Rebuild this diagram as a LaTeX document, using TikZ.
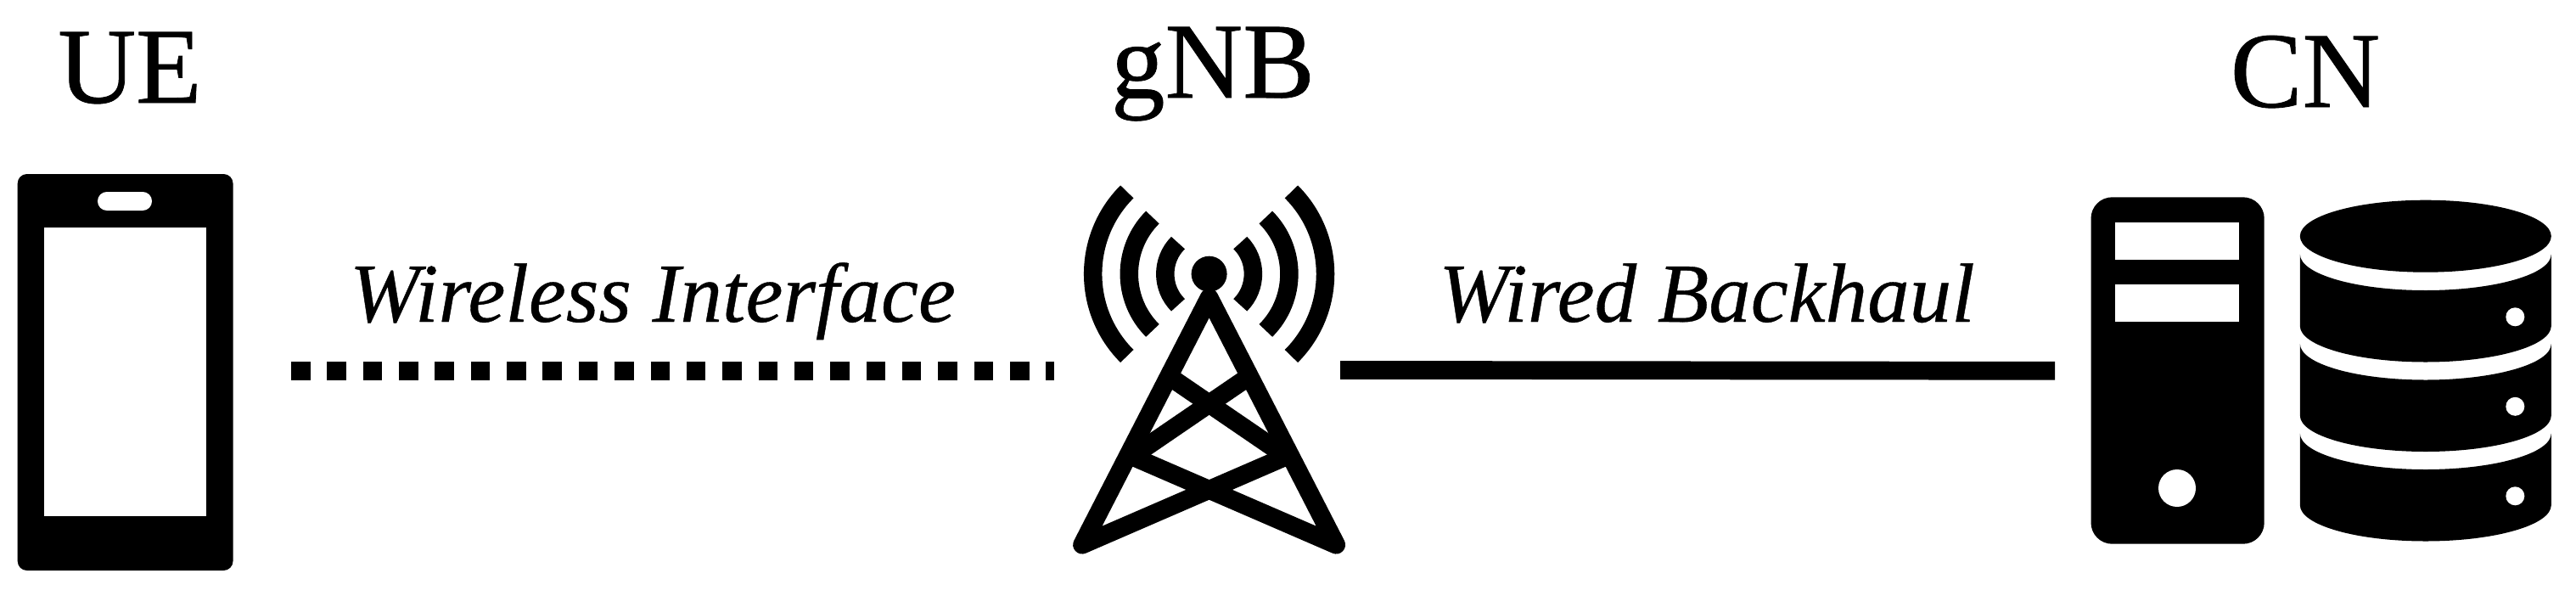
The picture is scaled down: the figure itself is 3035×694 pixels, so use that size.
\documentclass[tikz,border=0pt]{standalone}
\usepackage{fontspec}
\setmainfont{Liberation Serif}
\usetikzlibrary{calc}
\tikzset{
  title/.style={anchor=base,inner sep=0pt,font=\fontsize{127}{130}\selectfont\addfontfeature{FakeBold=0.6}},
  linklabel/.style={anchor=base,inner sep=0pt,font=\fontsize{99}{100}\selectfont\itshape\addfontfeature{FakeBold=0.4}},
  wireless/.style={line width=21.7pt,dash pattern=on 22.5pt off 19.85pt},
  wired/.style={line width=21.7pt},
  towerline/.style={line width=21.7pt,line join=round},
  brace/.style={line width=21.7pt},
  wave/.style={line width=21.5pt},
  solidpart/.style={fill=black,draw=none},
  cutout/.style={fill=white,draw=none},
}
\begin{document}
\begin{tikzpicture}[x=1pt,y=-1pt]
\useasboundingbox (0,0) rectangle (3035,694);
% labels
\node[title] (ue) at (153,121) {UE};
\node[title] (gnb) at (1429,115) {gNB};
\node[title] (cn) at (2716,126) {CN};
\node[linklabel] (wl) at (769,379) {Wireless Interface};
\node[linklabel] (wb) at (2011,379) {Wired Backhaul};
% phone
\path[solidpart,rounded corners=11pt] (20.7,205) rectangle (274.5,672);
\path[cutout] (52,268) rectangle (242.7,608);
\path[cutout,rounded corners=10.9pt] (115,226) rectangle (179,248);
% tower
\coordinate (tc) at (1424.6,322.7);
\foreach \r in {136.9,94.3,51.8}{
  \draw[wave] (tc) ++(135:\r) arc[start angle=135,end angle=225,radius=\r];
  \draw[wave] (tc) ++(-45:\r) arc[start angle=-45,end angle=45,radius=\r];
}
\coordinate (bl) at (1275,641.7);
\coordinate (br) at (1574.2,641.7);
\coordinate (apex) at (1424.6,350.7);
\draw[towerline] (1519.7,535.7) -- (bl) -- (apex) -- (br) -- (1329.5,535.7);
\draw[brace] (1472.1,443.2) -- (1331.3,539.4);
\draw[brace] (1377.1,443.2) -- (1517.9,539.4);
\fill (tc) circle[radius=21];
% server
\path[solidpart,rounded corners=25pt] (2463.5,232.3) rectangle (2667.7,640.7);
\path[cutout] (2492,261.7) rectangle (2638,305.7);
\path[cutout] (2492,335) rectangle (2638,379);
\fill[white] (2565,575) circle[radius=22];
% database
\fill (2857.8,278.2) ellipse[x radius=148,y radius=42.5];
\foreach \d in {0,105.5,211}{
  \path[solidpart] (2709.8,299.5+\d) arc[start angle=180,end angle=0,x radius=148,y radius=42.5]
     -- (3005.8,384+\d) arc[start angle=0,end angle=180,x radius=148,y radius=42.5] -- cycle;
  \fill[white] (2963.3,373.3+\d) circle[radius=11];
}
% connectors
\coordinate (wlA) at (343,437);
\coordinate (wlB) at (1242,437);
\coordinate (wbA) at (1579,435.9);
\coordinate (wbB) at (2421,436.8);
\draw[wireless] (wlA) -- (wlB);
\draw[wired] (wbA) -- (wbB);
\end{tikzpicture}
\end{document}
